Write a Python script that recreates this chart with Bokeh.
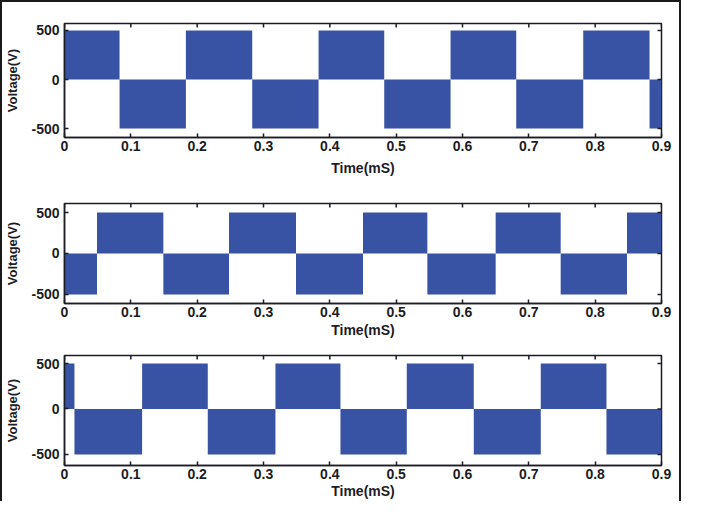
import math
from bokeh.plotting import figure
from bokeh.models import Range1d, FixedTicker, NumeralTickFormatter
from bokeh.layouts import column
from bokeh.embed import file_html
from bokeh.resources import INLINE

# ---- data ----
x_ticks = [0, 0.1, 0.2, 0.3, 0.4, 0.5, 0.6, 0.7, 0.8, 0.9]
y_ticks = [-500, 0, 500]

# switching instants (ms) and block levels (V) of each trace
edges_1 = [0, 0.083, 0.183, 0.283, 0.383, 0.482, 0.582, 0.681, 0.782, 0.882, 0.9]
levels_1 = [500, -500, 500, -500, 500, -500, 500, -500, 500, -500]

edges_2 = [0, 0.049, 0.149, 0.248, 0.349, 0.450, 0.547, 0.650, 0.748, 0.848, 0.9]
levels_2 = [-500, 500, -500, 500, -500, 500, -500, 500, -500, 500]

edges_3 = [0, 0.015, 0.117, 0.216, 0.318, 0.416, 0.516, 0.617, 0.718, 0.817, 0.9]
levels_3 = [500, -500, 500, -500, 500, -500, 500, -500, 500, -500]

x_label = "Time(mS)"
y_label = "Voltage(V)"

BLUE = "#3953a4"
INK = "#1c1c24"
FONT = "Liberation Sans"


def make(edges, levels, yr, height, bt, bb, bl, br, lab_gap):
    p = figure(width=677, height=height, output_backend="svg", toolbar_location=None,
               x_range=Range1d(0, 0.9), y_range=Range1d(*yr),
               min_border_top=bt, min_border_bottom=bb,
               min_border_left=bl, min_border_right=br,
               background_fill_color="white", border_fill_color="white")
    p.quad(left=edges[:-1], right=edges[1:], bottom=0, top=levels,
           fill_color=BLUE, line_color=None)
    p.grid.visible = False
    p.outline_line_color = INK
    p.outline_line_width = 1.5

    for ax in (p.xaxis[0], p.yaxis[0]):
        ax.major_tick_in = 4
        ax.major_tick_out = 0
        ax.minor_tick_line_color = None
        ax.axis_line_color = INK
        ax.axis_line_width = 1.5
        ax.major_tick_line_color = INK
        ax.major_tick_line_width = 1.5
        ax.major_label_text_font = FONT
        ax.major_label_text_font_style = "bold"
        ax.major_label_text_font_size = "14px"
        ax.major_label_text_color = INK
        ax.axis_label_text_font = FONT
        ax.axis_label_text_font_style = "bold"
        ax.axis_label_text_color = INK

    p.xaxis[0].ticker = FixedTicker(ticks=x_ticks)
    p.xaxis[0].formatter = NumeralTickFormatter(format="0.[0]")
    p.xaxis[0].major_label_standoff = 3
    p.xaxis[0].axis_label = x_label
    p.xaxis[0].axis_label_text_font_size = "14px"
    p.xaxis[0].axis_label_standoff = lab_gap

    p.yaxis[0].ticker = FixedTicker(ticks=y_ticks)
    p.yaxis[0].formatter = NumeralTickFormatter(format="0")
    p.yaxis[0].major_label_standoff = 5
    p.yaxis[0].axis_label = y_label
    p.yaxis[0].axis_label_text_font_size = "13px"
    p.yaxis[0].axis_label_standoff = 8

    # inward ticks on the top and right edges of the box (MATLAB "box on")
    p.ray(x=x_ticks, y=[yr[1]] * len(x_ticks), length=4, length_units="screen",
          angle=-math.pi / 2, line_color=INK, line_width=1.5)
    p.ray(x=[0.9] * len(y_ticks), y=y_ticks, length=4, length_units="screen",
          angle=math.pi, line_color=INK, line_width=1.5)
    return p


p1 = make(edges_1, levels_1, (-591, 571), 178, 21, 43, 62, 18, 6)
p2 = make(edges_2, levels_2, (-611, 610), 160, 23, 37, 58, 12, 2)
p3 = make(edges_3, levels_3, (-621, 588), 161, 15, 36, 62, 14, 1)

layout = column(p1, p2, p3, spacing=0,
                styles={"border-top": "2px solid #1a1a1a",
                        "border-left": "2px solid #1a1a1a",
                        "border-right": "2px solid #1a1a1a",
                        "background-color": "white"})

open("out.html", "w").write(file_html(layout, INLINE))
